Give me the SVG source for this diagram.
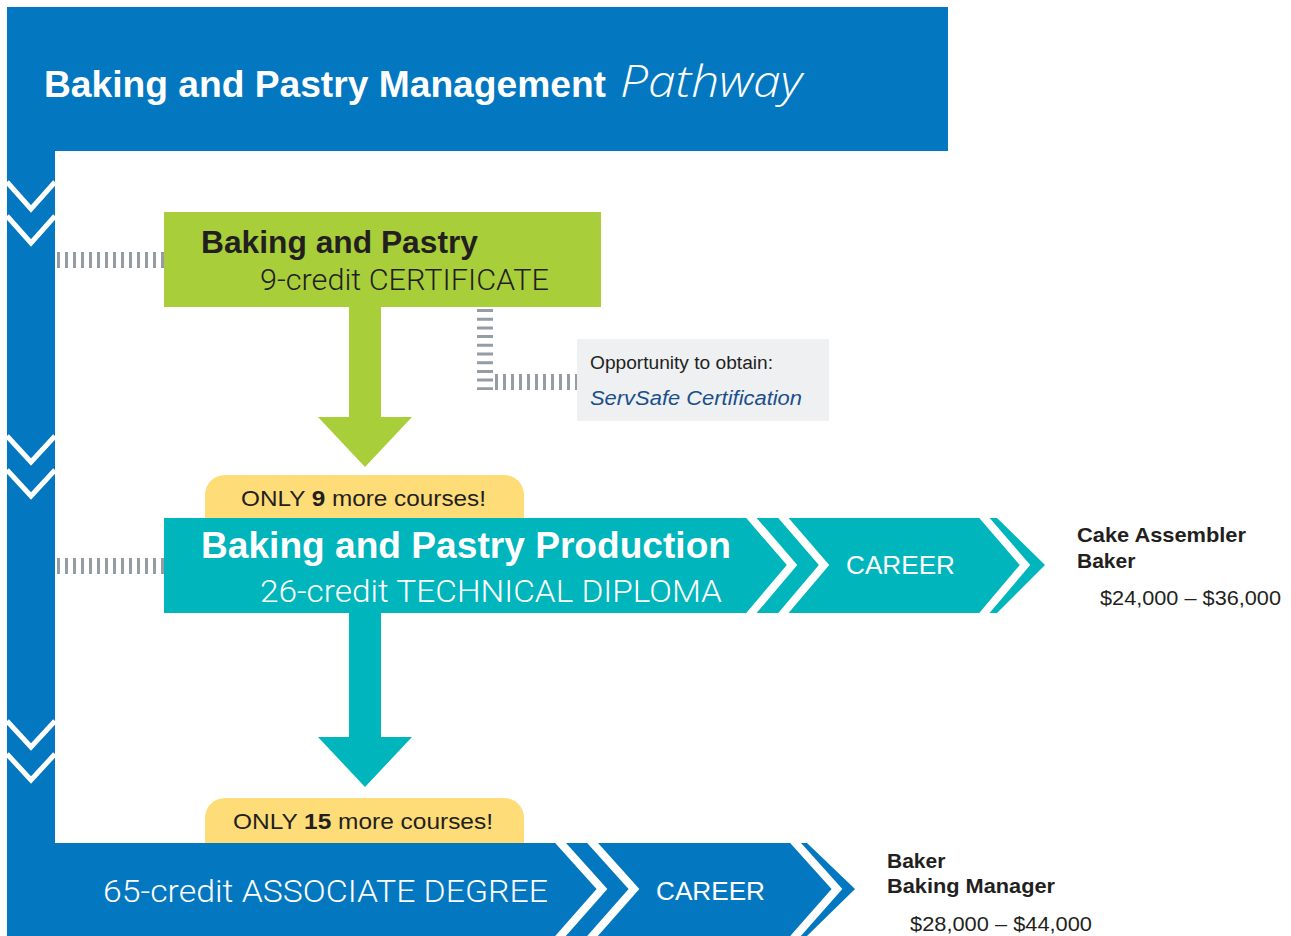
<svg xmlns="http://www.w3.org/2000/svg" width="1291" height="936" viewBox="0 0 1291 936">
<style>
.chev{fill:none;stroke:#fff;stroke-width:5;stroke-linejoin:miter}
.chevw{fill:none;stroke:#fff;stroke-width:8;stroke-linejoin:miter}
.dashh{stroke:#949ca4;stroke-width:16;stroke-dasharray:3 5;fill:none}
.dashv{stroke:#949ca4;stroke-width:16;stroke-dasharray:3 5.7;fill:none}
.b{font-family:"Liberation Sans",Arial,sans-serif;font-weight:bold}
.r{font-family:"Liberation Sans",Arial,sans-serif}
.l{font-family:Roboto,"Liberation Sans",sans-serif;font-weight:300}
.w{fill:#fff}
.d{fill:#231f20}
</style>
<rect width="1291" height="936" fill="#fff"/>
<g id="header">
<rect x="7" y="7" width="941" height="144" fill="#0377c0"/>
<rect x="7" y="151" width="48" height="785" fill="#0377c0"/>
<text x="44" y="97" class="b w" font-size="36" textLength="562" lengthAdjust="spacingAndGlyphs">Baking and Pastry Management</text>
<text x="620" y="97" font-family="'Open Sans',sans-serif" font-style="italic" font-weight="300" font-size="44" fill="#fff" textLength="182" lengthAdjust="spacingAndGlyphs">Pathway</text>
</g>
<g id="left-chevrons">
<polyline class="chev" points="7,182 31,209 55,182"/>
<polyline class="chev" points="7,216 31,243 55,216"/>
<polyline class="chev" points="7,436 31,462 55,436"/>
<polyline class="chev" points="7,470 31,496 55,470"/>
<polyline class="chev" points="7,721 31,747 55,721"/>
<polyline class="chev" points="7,754 31,780 55,754"/>
</g>
<g id="connectors">
<line class="dashh" x1="57" y1="260" x2="164" y2="260"/>
<line class="dashh" x1="57" y1="566" x2="164" y2="566"/>
<line class="dashv" x1="485" y1="309" x2="485" y2="390"/>
<line class="dashh" x1="495" y1="382" x2="577" y2="382"/>
<polygon id="arrow-green" points="349,307 381,307 381,417 412,417 365,467 318,417 349,417" fill="#a8ce3a"/>
<polygon id="arrow-teal" points="349,613 381,613 381,737 412,737 365,787 318,737 349,737" fill="#00b5bc"/>
</g>
<g id="certificate">
<rect x="164" y="212" width="437" height="95" fill="#a8ce3a"/>
<text x="201" y="253" class="b d" font-size="31" textLength="277" lengthAdjust="spacingAndGlyphs">Baking and Pastry</text>
<text x="260" y="290" class="l d" font-size="29" textLength="289" lengthAdjust="spacingAndGlyphs">9-credit CERTIFICATE</text>
</g>
<g id="servsafe">
<rect x="577" y="339" width="252" height="82" fill="#eef0f2"/>
<text x="590" y="369" class="r d" font-size="18" textLength="183" lengthAdjust="spacingAndGlyphs">Opportunity to obtain:</text>
<text x="590" y="405" class="r" font-style="italic" font-size="20" fill="#1b4f8a" textLength="212" lengthAdjust="spacingAndGlyphs">ServSafe Certification</text>
</g>
<g id="tab1">
<path d="M205,518 V495 A20,20 0 0 1 225,475 H504 A20,20 0 0 1 524,495 V518 Z" fill="#fedc77"/>
<text x="241" y="506" class="r d" font-size="22" textLength="245" lengthAdjust="spacingAndGlyphs">ONLY <tspan font-weight="bold">9</tspan> more courses!</text>
</g>
<g id="diploma">
<polygon points="164,518 997,518 1045,565 997,613 164,613" fill="#00b5bc"/>
<polyline class="chevw" points="748,514 792,565 748,617"/>
<polyline class="chevw" points="780,514 824,565 780,617"/>
<polyline class="chevw" points="981,514 1025,565 981,617"/>
<text x="201" y="558" class="b w" font-size="37" textLength="530" lengthAdjust="spacingAndGlyphs">Baking and Pastry Production</text>
<text x="260" y="602" class="l w" font-size="31" textLength="462" lengthAdjust="spacingAndGlyphs">26-credit TECHNICAL DIPLOMA</text>
<text x="846" y="574" class="r w" font-size="25" textLength="109" lengthAdjust="spacingAndGlyphs">CAREER</text>
</g>
<g id="career1">
<text x="1077" y="542" class="b d" font-size="21" textLength="169" lengthAdjust="spacingAndGlyphs">Cake Assembler</text>
<text x="1077" y="568" class="b d" font-size="21">Baker</text>
<text x="1100" y="605" class="r d" font-size="20" textLength="181" lengthAdjust="spacingAndGlyphs">$24,000 – $36,000</text>
</g>
<g id="tab2">
<path d="M205,843 V818 A20,20 0 0 1 225,798 H504 A20,20 0 0 1 524,818 V843 Z" fill="#fedc77"/>
<text x="233" y="829" class="r d" font-size="22" textLength="260" lengthAdjust="spacingAndGlyphs">ONLY <tspan font-weight="bold">15</tspan> more courses!</text>
</g>
<g id="degree">
<polygon points="7,843 807,843 855,889 807,936 7,936" fill="#0377c0"/>
<polyline class="chevw" points="557,839 602,889 557,940"/>
<polyline class="chevw" points="589,839 634,889 589,940"/>
<polyline class="chevw" points="792,839 837,889 792,940"/>
<text x="103" y="902" class="l w" font-size="31" textLength="445" lengthAdjust="spacingAndGlyphs">65-credit ASSOCIATE DEGREE</text>
<text x="656" y="900" class="r w" font-size="25" textLength="109" lengthAdjust="spacingAndGlyphs">CAREER</text>
</g>
<g id="career2">
<text x="887" y="868" class="b d" font-size="21">Baker</text>
<text x="887" y="893" class="b d" font-size="21" textLength="168" lengthAdjust="spacingAndGlyphs">Baking Manager</text>
<text x="910" y="931" class="r d" font-size="20" textLength="182" lengthAdjust="spacingAndGlyphs">$28,000 – $44,000</text>
</g>
</svg>
